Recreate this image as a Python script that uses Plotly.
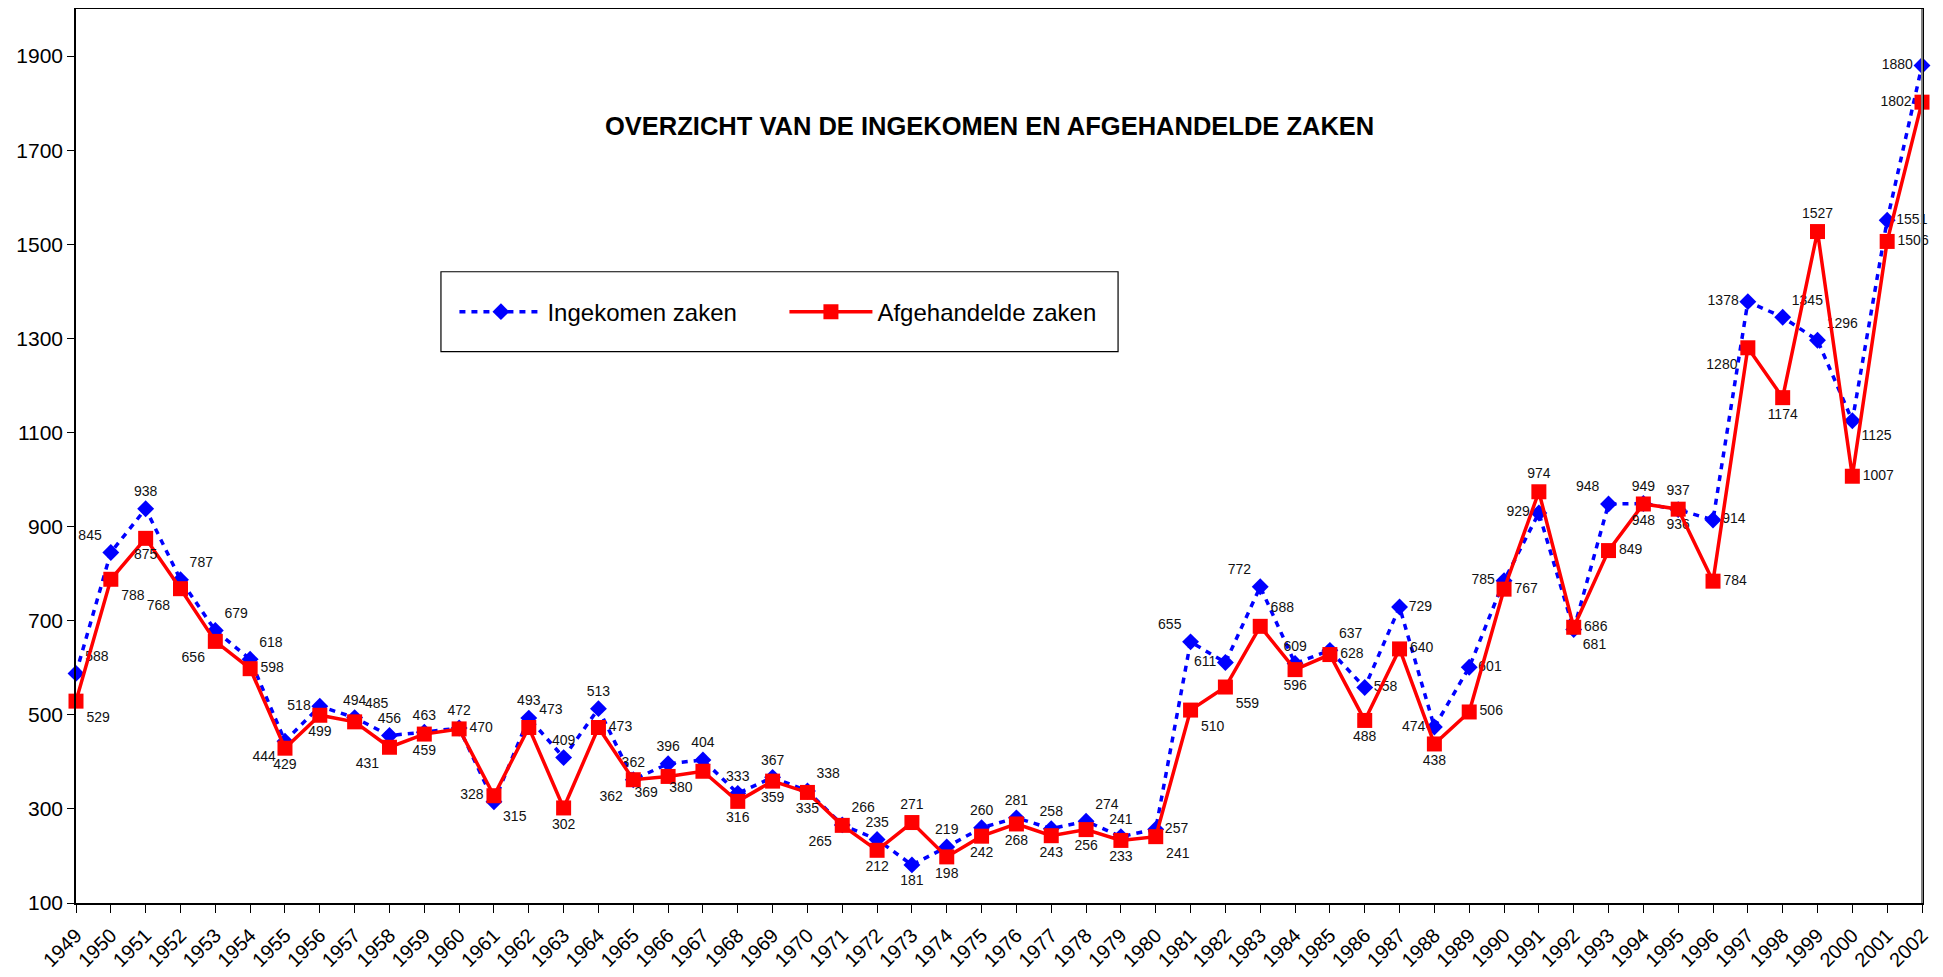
import plotly.graph_objects as go

# Data
years = list(range(1949, 2003))
ingekomen = [588, 845, 938, 787, 679, 618, 444, 518, 494, 456,
             463, 472, 315, 493, 409, 513, 362, 396, 404, 333,
             367, 338, 266, 235, 181, 219, 260, 281, 258, 274,
             241, 257, 655, 611, 772, 609, 637, 558, 729, 474,
             601, 785, 929, 681, 948, 949, 936, 914, 1378, 1345,
             1296, 1125, 1551, 1880]
afgehandeld = [529, 788, 875, 768, 656, 598, 429, 499, 485, 431,
               459, 470, 328, 473, 302, 473, 362, 369, 380, 316,
               359, 335, 265, 212, 271, 198, 242, 268, 243, 256,
               233, 241, 510, 559, 688, 596, 628, 488, 640, 438,
               506, 767, 974, 686, 849, 948, 937, 784, 1280, 1174,
               1527, 1007, 1506, 1802]
y_ticks = [100, 300, 500, 700, 900, 1100, 1300, 1500, 1700, 1900]

# label placement per point (roughly as in the original)
pos_in = ['top right', 'top left', 'top center', 'top right', 'top right', 'top right',
          'bottom left', 'middle left', 'top center', 'top center', 'top center', 'top center',
          'bottom right', 'top center', 'top center', 'top center', 'top center', 'top center',
          'top center', 'top center', 'top center', 'top right', 'top right', 'top center',
          'bottom center', 'top center', 'top center', 'top center', 'top center', 'top right',
          'top center', 'middle right', 'top left', 'middle left', 'top left', 'top center',
          'top right', 'middle right', 'middle right', 'middle left', 'middle right', 'middle left',
          'middle left', 'bottom right', 'top left', 'top center', 'bottom center', 'middle right',
          'middle left', 'top right', 'top right', 'bottom right', 'middle right', 'middle left']
pos_af = ['bottom right', 'bottom right', 'bottom center', 'bottom left', 'bottom left', 'middle right',
          'bottom center', 'bottom center', 'top right', 'bottom left', 'bottom center', 'middle right',
          'middle left', 'top right', 'bottom center', 'middle right', 'bottom left', 'bottom left',
          'bottom left', 'bottom center', 'bottom center', 'bottom center', 'bottom left', 'bottom center',
          'top center', 'bottom center', 'bottom center', 'bottom center', 'bottom center', 'bottom center',
          'bottom center', 'bottom right', 'bottom right', 'bottom right', 'top right', 'bottom center',
          'middle right', 'bottom center', 'middle right', 'bottom center', 'middle right', 'middle right',
          'top center', 'middle right', 'middle right', 'bottom center', 'top center', 'middle right',
          'bottom left', 'bottom center', 'top center', 'middle right', 'middle right', 'middle left']

FONT = 'Liberation Sans, Arial, sans-serif'

fig = go.Figure()
fig.add_trace(go.Scatter(
    x=years, y=ingekomen, name='Ingekomen zaken',
    mode='lines+markers+text', text=[str(v) for v in ingekomen],
    textposition=pos_in, textfont=dict(size=14, color='#111111', family=FONT),
    line=dict(color='#0000FF', width=3.5, dash='6px,6px'),
    marker=dict(symbol='diamond', size=13, color='#0000FF'),
    cliponaxis=False
))
fig.add_trace(go.Scatter(
    x=years, y=afgehandeld, name='Afgehandelde zaken',
    mode='lines+markers+text', text=[str(v) for v in afgehandeld],
    textposition=pos_af, textfont=dict(size=14, color='#111111', family=FONT),
    line=dict(color='#FF0000', width=3.5),
    marker=dict(symbol='square', size=15, color='#FF0000'),
    cliponaxis=False
))

# the page has an 8px body margin, so the figure is sized and offset for it
fig.update_layout(
    width=1935, height=969,
    margin=dict(l=68, r=21, t=1, b=74),
    paper_bgcolor='white', plot_bgcolor='white',
    font=dict(family=FONT, color='black'),
    showlegend=True,
    legend=dict(orientation='h', x=0.205, y=0.661, xanchor='left', yanchor='middle',
                font=dict(size=24, family=FONT), entrywidth=232, itemwidth=83,
                bgcolor='rgba(0,0,0,0)', borderwidth=0),
    shapes=[dict(type='rect', xref='paper', yref='paper',
                 x0=0.1977, x1=0.5645, y0=0.6168, y1=0.7061,
                 line=dict(color='black', width=1.2), fillcolor='rgba(0,0,0,0)', layer='below'),
            dict(type='line', xref='paper', yref='paper', x0=1, x1=1, y0=0, y1=1,
                 line=dict(color='#808080', width=2), layer='above')],
    annotations=[dict(text='<b>OVERZICHT VAN DE INGEKOMEN EN AFGEHANDELDE ZAKEN</b>',
                      xref='paper', yref='paper', x=0.4946, y=0.869,
                      xanchor='center', yanchor='middle', showarrow=False,
                      font=dict(size=25.5, family=FONT, color='black'))]
)
fig.update_xaxes(
    range=[1949, 2002], tickmode='array', tickvals=years, ticktext=[str(y) for y in years],
    tickangle=-45, ticks='outside', ticklen=8, tickcolor='black',
    tickfont=dict(size=20, family=FONT), automargin=False, ticklabelstandoff=3,
    showline=True, linecolor='black', linewidth=1.5, mirror=True,
    showgrid=False, zeroline=False
)
fig.update_yaxes(
    range=[100, 2000], tickmode='array', tickvals=y_ticks,
    ticks='outside', ticklen=7, tickcolor='black',
    tickfont=dict(size=21, family=FONT), automargin=False,
    showline=True, linecolor='black', linewidth=1.5, mirror=True,
    showgrid=False, zeroline=False
)

fig.write_html('out.html')
